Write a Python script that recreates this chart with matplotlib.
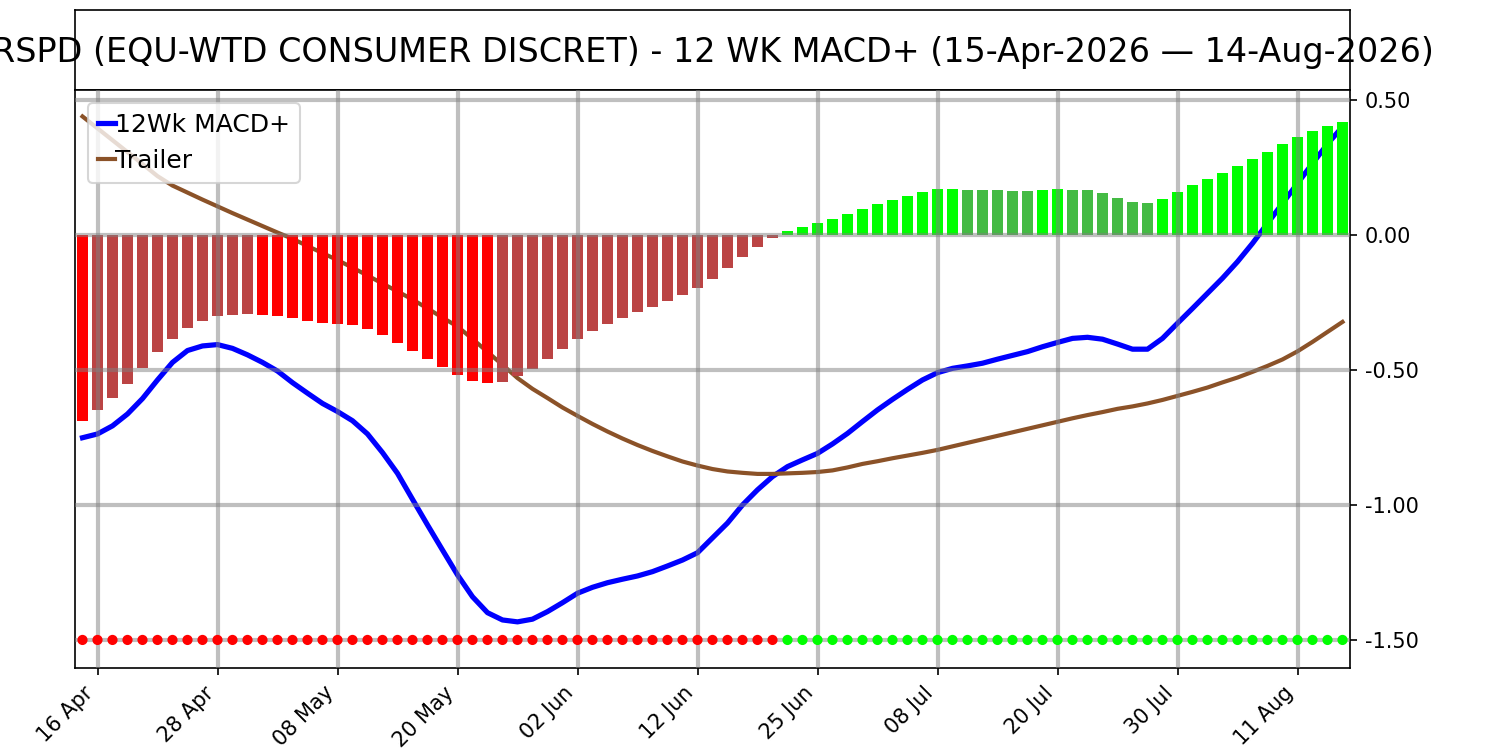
import matplotlib
matplotlib.use("Agg")
import matplotlib.pyplot as plt
import numpy as np
import pandas as pd
from matplotlib.ticker import FormatStrFormatter

# ---- data ----
holidays = ["2026-05-25", "2026-06-19", "2026-07-03"]
dates = [d for d in pd.bdate_range("2026-04-15", "2026-08-14") if d.strftime("%Y-%m-%d") not in holidays]

hist = [-0.688, -0.649, -0.602, -0.551, -0.491, -0.432, -0.384, -0.343, -0.317, -0.299,
        -0.295, -0.291, -0.295, -0.299, -0.306, -0.317, -0.325, -0.328, -0.332, -0.347,
        -0.369, -0.399, -0.428, -0.458, -0.488, -0.517, -0.540, -0.547, -0.543, -0.521,
        -0.495, -0.458, -0.421, -0.384, -0.354, -0.328, -0.306, -0.284, -0.265, -0.243,
        -0.221, -0.195, -0.162, -0.121, -0.080, -0.043, -0.010, 0.015, 0.030, 0.044,
        0.059, 0.078, 0.096, 0.115, 0.130, 0.144, 0.159, 0.170, 0.171, 0.167,
        0.166, 0.165, 0.164, 0.163, 0.167, 0.170, 0.168, 0.166, 0.156, 0.137,
        0.122, 0.119, 0.133, 0.159, 0.185, 0.207, 0.230, 0.256, 0.281, 0.307,
        0.337, 0.363, 0.385, 0.404, 0.419]

macd = [-0.751, -0.737, -0.707, -0.663, -0.606, -0.537, -0.472, -0.428, -0.411, -0.406,
        -0.420, -0.444, -0.472, -0.504, -0.547, -0.586, -0.624, -0.654, -0.688, -0.737,
        -0.806, -0.883, -0.979, -1.074, -1.167, -1.259, -1.340, -1.399, -1.426, -1.433,
        -1.423, -1.395, -1.362, -1.327, -1.305, -1.288, -1.275, -1.263, -1.247, -1.226,
        -1.204, -1.177, -1.122, -1.067, -1.000, -0.944, -0.895, -0.858, -0.833, -0.809,
        -0.774, -0.735, -0.691, -0.648, -0.609, -0.572, -0.537, -0.510, -0.494, -0.485,
        -0.475, -0.460, -0.446, -0.432, -0.414, -0.398, -0.383, -0.379, -0.386, -0.404,
        -0.423, -0.423, -0.383, -0.327, -0.272, -0.216, -0.160, -0.099, -0.031, 0.043,
        0.117, 0.191, 0.265, 0.337, 0.401]

trailer = [0.439, 0.395, 0.351, 0.307, 0.263, 0.218, 0.183, 0.157, 0.131, 0.106,
           0.081, 0.057, 0.033, 0.009, -0.014, -0.041, -0.067, -0.093, -0.121, -0.150,
           -0.180, -0.209, -0.239, -0.272, -0.306, -0.339, -0.385, -0.433, -0.481, -0.530,
           -0.570, -0.604, -0.639, -0.670, -0.700, -0.728, -0.754, -0.778, -0.800, -0.820,
           -0.839, -0.854, -0.867, -0.876, -0.881, -0.885, -0.885, -0.883, -0.881, -0.878,
           -0.872, -0.861, -0.848, -0.838, -0.827, -0.817, -0.807, -0.796, -0.783, -0.770,
           -0.757, -0.744, -0.731, -0.718, -0.705, -0.692, -0.679, -0.667, -0.656, -0.644,
           -0.635, -0.624, -0.611, -0.596, -0.581, -0.565, -0.546, -0.528, -0.507, -0.485,
           -0.461, -0.431, -0.396, -0.359, -0.322]

tick_labels = ["16 Apr", "28 Apr", "08 May", "20 May", "02 Jun", "12 Jun",
               "25 Jun", "08 Jul", "20 Jul", "30 Jul", "11 Aug"]
dot_level = -1.5
title = "RSPD (EQU-WTD CONSUMER DISCRET) - 12 WK MACD+ (15-Apr-2026 \u2014 14-Aug-2026)"

# ---- figure ----
x = np.arange(len(hist))
colors = []
for i, v in enumerate(hist):
    prev = hist[i - 1] if i > 0 else (v + 0.01 if v < 0 else v - 0.01)
    if v < 0:
        colors.append("#ff0000" if v < prev else "#bb4444")
    else:
        colors.append("#00ff00" if v > prev else "#44bb44")
dot_colors = ["#ff0000" if v < 0 else "#00ff00" for v in hist]

fig = plt.figure(figsize=(10, 5), dpi=150)
tax = fig.add_axes([0.05, 0.88, 0.85, 0.1067])
tax.set_xticks([]); tax.set_yticks([])
tax.text(0.5, 0.47, title, ha="center", va="center", fontsize=16, transform=tax.transAxes)

ax = fig.add_axes([0.05, 0.1093, 0.85, 0.7707])
ax.plot(x, macd, color="#0000ff", lw=2.5, label="12Wk MACD+", zorder=1)
ax.plot(x, trailer, color="#8b5228", lw=2, label="Trailer", zorder=1)
ax.bar(x, hist, width=0.7, color=colors, zorder=1.5)
ax.scatter(x, [dot_level] * len(x), c=dot_colors, s=24, zorder=3, linewidths=0)

ax.set_xlim(-0.5, 84.5)
ax.set_ylim(-1.604, 0.537)
ax.set_axisbelow(False)
ax.grid(True, color="gray", alpha=0.5, lw=2)
ax.yaxis.tick_right()
ax.set_yticks([0.5, 0.0, -0.5, -1.0, -1.5])
ax.yaxis.set_major_formatter(FormatStrFormatter("%.2f"))
date_strs = [d.strftime("%d %b") for d in dates]
ax.set_xticks([date_strs.index(t) for t in tick_labels])
ax.set_xticklabels(tick_labels, rotation=45, ha="right", fontsize=10)
ax.tick_params(axis="y", labelsize=10)
ax.legend(loc="upper left", fontsize=12, handlelength=0.7, handletextpad=0.0)

fig.savefig("out.png", dpi=150)
